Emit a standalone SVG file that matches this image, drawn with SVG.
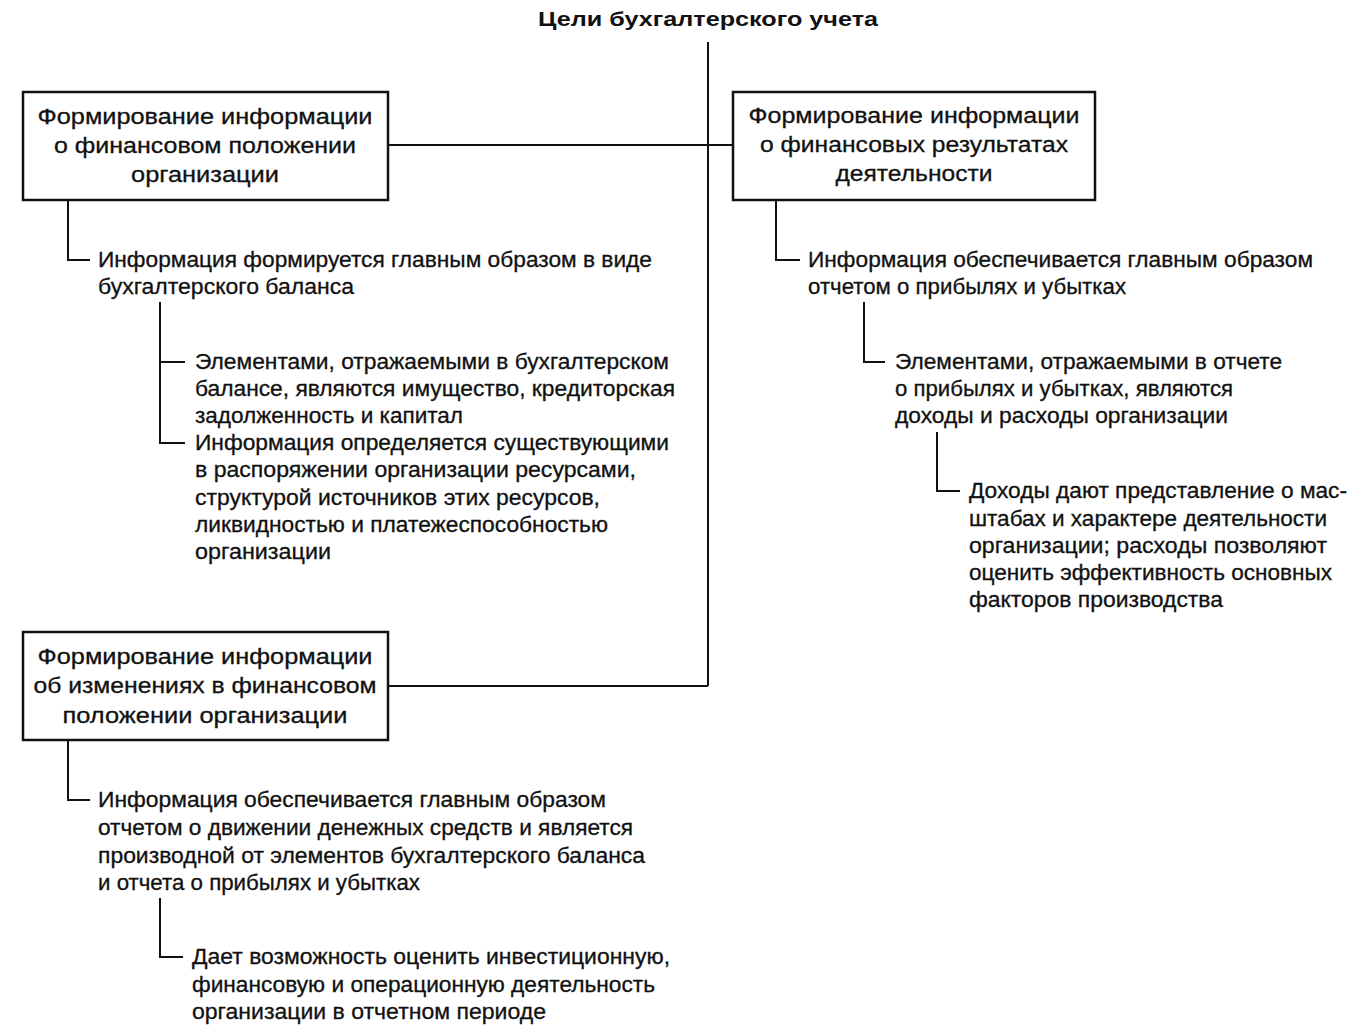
<svg xmlns="http://www.w3.org/2000/svg" width="1348" height="1034" viewBox="0 0 1348 1034">
<style>
text{font-family:"Liberation Sans",Arial,sans-serif;font-size:22px;fill:#111;stroke:#111;stroke-width:0.3}
.t{font-weight:bold;font-size:20px;stroke-width:0}
.c{text-anchor:middle}
.box{fill:#fff;stroke:#111;stroke-width:2.5}
.ln{fill:none;stroke:#111;stroke-width:2}
</style>
<rect width="1348" height="1034" fill="#fff"/>
<g id="connectors">
<path class="ln" d="M708 42V686M388 145H733M388 686H708"/>
<path class="ln" d="M68 200V260H90"/>
<path class="ln" d="M160 302V443H185M160 362H185"/>
<path class="ln" d="M776 200V260H800"/>
<path class="ln" d="M864 302V362H885"/>
<path class="ln" d="M937 432V491H960"/>
<path class="ln" d="M68 740V800H90"/>
<path class="ln" d="M160 898V957H183"/>
</g>
<g id="title"><text class="t c" x="708" y="26" textLength="340" lengthAdjust="spacingAndGlyphs">Цели бухгалтерского учета</text></g>
<g id="box1">
<rect class="box" x="23" y="92" width="365" height="108"/>
<text class="c" x="205" y="124" textLength="335" lengthAdjust="spacingAndGlyphs">Формирование информации</text>
<text class="c" x="205" y="153" textLength="302" lengthAdjust="spacingAndGlyphs">о финансовом положении</text>
<text class="c" x="205" y="182" textLength="148" lengthAdjust="spacingAndGlyphs">организации</text>
</g>
<g id="box2">
<rect class="box" x="733" y="92" width="362" height="108"/>
<text class="c" x="914" y="123" textLength="331" lengthAdjust="spacingAndGlyphs">Формирование информации</text>
<text class="c" x="914" y="152" textLength="308" lengthAdjust="spacingAndGlyphs">о финансовых результатах</text>
<text class="c" x="914" y="181" textLength="157" lengthAdjust="spacingAndGlyphs">деятельности</text>
</g>
<g id="box3">
<rect class="box" x="23" y="632" width="365" height="108"/>
<text class="c" x="205" y="664" textLength="335" lengthAdjust="spacingAndGlyphs">Формирование информации</text>
<text class="c" x="205" y="693" textLength="343" lengthAdjust="spacingAndGlyphs">об изменениях в финансовом</text>
<text class="c" x="205" y="723" textLength="285" lengthAdjust="spacingAndGlyphs">положении организации</text>
</g>
<g id="note1">
<text x="98" y="267" textLength="554" lengthAdjust="spacingAndGlyphs">Информация формируется главным образом в виде</text>
<text x="98" y="294" textLength="256" lengthAdjust="spacingAndGlyphs">бухгалтерского баланса</text>
</g>
<g id="note2">
<text x="195" y="369" textLength="474" lengthAdjust="spacingAndGlyphs">Элементами, отражаемыми в бухгалтерском</text>
<text x="195" y="396" textLength="480" lengthAdjust="spacingAndGlyphs">балансе, являются имущество, кредиторская</text>
<text x="195" y="423" textLength="268" lengthAdjust="spacingAndGlyphs">задолженность и капитал</text>
</g>
<g id="note3">
<text x="195" y="450" textLength="474" lengthAdjust="spacingAndGlyphs">Информация определяется существующими</text>
<text x="195" y="477" textLength="441" lengthAdjust="spacingAndGlyphs">в распоряжении организации ресурсами,</text>
<text x="195" y="505" textLength="405" lengthAdjust="spacingAndGlyphs">структурой источников этих ресурсов,</text>
<text x="195" y="532" textLength="413" lengthAdjust="spacingAndGlyphs">ликвидностью и платежеспособностью</text>
<text x="195" y="559" textLength="136" lengthAdjust="spacingAndGlyphs">организации</text>
</g>
<g id="note4">
<text x="808" y="267" textLength="505" lengthAdjust="spacingAndGlyphs">Информация обеспечивается главным образом</text>
<text x="808" y="294" textLength="318" lengthAdjust="spacingAndGlyphs">отчетом о прибылях и убытках</text>
</g>
<g id="note5">
<text x="895" y="369" textLength="387" lengthAdjust="spacingAndGlyphs">Элементами, отражаемыми в отчете</text>
<text x="895" y="396" textLength="338" lengthAdjust="spacingAndGlyphs">о прибылях и убытках, являются</text>
<text x="895" y="423" textLength="333" lengthAdjust="spacingAndGlyphs">доходы и расходы организации</text>
</g>
<g id="note6">
<text x="969" y="498" textLength="378" lengthAdjust="spacingAndGlyphs">Доходы дают представление о мас-</text>
<text x="969" y="526" textLength="358" lengthAdjust="spacingAndGlyphs">штабах и характере деятельности</text>
<text x="969" y="553" textLength="358" lengthAdjust="spacingAndGlyphs">организации; расходы позволяют</text>
<text x="969" y="580" textLength="363" lengthAdjust="spacingAndGlyphs">оценить эффективность основных</text>
<text x="969" y="607" textLength="254" lengthAdjust="spacingAndGlyphs">факторов производства</text>
</g>
<g id="note7">
<text x="98" y="807" textLength="508" lengthAdjust="spacingAndGlyphs">Информация обеспечивается главным образом</text>
<text x="98" y="835" textLength="535" lengthAdjust="spacingAndGlyphs">отчетом о движении денежных средств и является</text>
<text x="98" y="863" textLength="547" lengthAdjust="spacingAndGlyphs">производной от элементов бухгалтерского баланса</text>
<text x="98" y="890" textLength="322" lengthAdjust="spacingAndGlyphs">и отчета о прибылях и убытках</text>
</g>
<g id="note8">
<text x="192" y="964" textLength="478" lengthAdjust="spacingAndGlyphs">Дает возможность оценить инвестиционную,</text>
<text x="192" y="992" textLength="463" lengthAdjust="spacingAndGlyphs">финансовую и операционную деятельность</text>
<text x="192" y="1019" textLength="354" lengthAdjust="spacingAndGlyphs">организации в отчетном периоде</text>
</g>
</svg>
